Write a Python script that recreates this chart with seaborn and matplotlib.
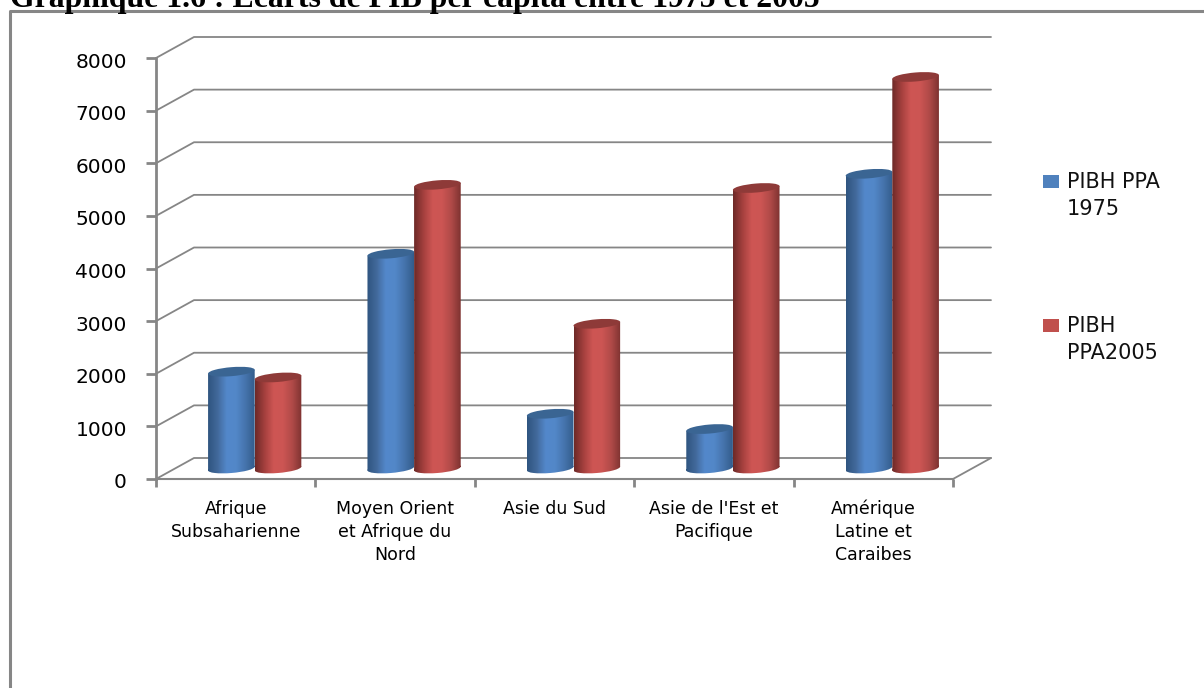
import numpy as np
import pandas as pd
import seaborn as sns
import matplotlib.pyplot as plt
from matplotlib.colors import LinearSegmentedColormap
from matplotlib.lines import Line2D
from matplotlib.patches import PathPatch, Rectangle
from matplotlib.path import Path
from matplotlib.transforms import Affine2D, ScaledTranslation

# Données
regions = ['Afrique\nSubsaharienne', 'Moyen Orient\net Afrique du\nNord', 'Asie du Sud',
           "Asie de l'Est et\nPacifique", 'Amérique\nLatine et\nCaraibes']
pibh_1975 = [1840, 4080, 1040, 750, 5600]
pibh_2005 = [1730, 5390, 2750, 5330, 7440]
noms = ['PIBH PPA\n1975', 'PIBH\nPPA2005']
y_ticks = [0, 1000, 2000, 3000, 4000, 5000, 6000, 7000, 8000]
titre = 'Graphique 1.6 : Ecarts de PIB per capita entre 1975 et 2005'

couleurs = ['#4F81BD', '#C0504D']
degrades = [['#2F5580', '#42699B', '#5388CB', '#5287C8', '#4674AD', '#335D8C'],
            ['#6E2A28', '#A5403E', '#CE5654', '#CC5553', '#B04A48', '#7F3331']]
dessus = ['#3A6593', '#8E3A38']
gris = '#868686'

W, H = 1204, 688
L, R, T, B = 156, 953, 58, 479
fig = plt.figure(figsize=(W / 100, H / 100), dpi=100)
sns.set_style('white')
plt.rcParams['font.family'] = ['DejaVu Sans']
plt.rcParams['text.color'] = 'black'


def boite(x0, y0, x1, y1):
    # pixels de l'image vers coordonnées de la figure
    return [x0 / W, 1 - y1 / H, (x1 - x0) / W, (y1 - y0) / H]


# Cadre du graphique et titre
fig.add_artist(Line2D([1, 9.5 / W, 9.5 / W], [1 - 11 / H, 1 - 11 / H, 0], color=gris, lw=2.2))
fig.text(10 / W, 1 - 6.5 / H, titre, family='Liberation Serif', weight='bold', fontsize=22.9, va='baseline', color='black')

# Axes de la face avant
ax = fig.add_axes(boite(L, T, R, B))
ax.set_xlim(-0.5, 4.5)
ax.set_ylim(0, 8000)
ax.patch.set_visible(False)
prof_x = 38 / (R - L) * 5
prof_y = 21 / (B - T) * 8000
for v in y_ticks:
    ax.plot([-0.5, -0.5 + prof_x, 4.5 + prof_x], [v, v + prof_y, v + prof_y], color=gris, lw=1.3, clip_on=False, zorder=1)
ax.plot([4.5, 4.5 + prof_x], [0, prof_y], color=gris, lw=1.3, clip_on=False, zorder=1)

ax.set_yticks(y_ticks)
ax.set_xticks(np.arange(-0.5, 5))
ax.set_xticklabels([])
ax.set_xticks(range(5), regions, minor=True)
ax.tick_params(axis='y', length=7, width=2, color=gris, labelsize=14.5, labelcolor='black', pad=14, left=True)
ax.tick_params(axis='x', which='major', length=6, width=2, color=gris, bottom=True)
ax.tick_params(axis='x', which='minor', length=0, labelsize=12.5, labelcolor='black', pad=15)
for t in ax.get_xticklabels(minor=True):
    t.set_linespacing(1.35)
for t in ax.get_yticklabels():
    t.set_transform(t.get_transform() + ScaledTranslation(0, -2 / 100, fig.dpi_scale_trans))
for s in ['top', 'right']:
    ax.spines[s].set_visible(False)
ax.spines['left'].set_color(gris)
ax.spines['left'].set_linewidth(2)
ax.spines['bottom'].set_color(gris)
ax.spines['bottom'].set_linewidth(1.5)

# Axes des barres, décalés au milieu de la profondeur
bars = fig.add_axes(boite(L + 19, T - 10.5, R + 19, B - 10.5))
df = pd.DataFrame({'region': regions * 2,
                   'serie': [noms[0]] * 5 + [noms[1]] * 5,
                   'valeur': pibh_1975 + pibh_2005})
sns.barplot(data=df, x='region', y='valeur', hue='serie', palette=couleurs, width=0.585, gap=0,
            legend=False, ax=bars)
bars.set_xlim(-0.5, 4.5)
bars.set_ylim(0, 8000)
bars.axis('off')

# Cylindres: dégradé découpé sur la barre + ellipses inclinées bas et haut
haut_ell = 9 / (B - T) * 8000
pente = 0.08 * (8000 / (B - T)) * ((R - L) / 5)
n = len(regions)
for i, p in enumerate(bars.patches[:2 * n]):
    s = i // n
    x, w, h = p.get_x(), p.get_width(), p.get_height()
    cx = x + w / 2
    d = pente * w / 2
    cmap = LinearSegmentedColormap.from_list('c', degrades[s])
    corps = Path([(x, -d), (x + w, d), (x + w, h + d), (x, h - d), (x, -d)], closed=True)
    ell = Affine2D.from_values(w / 2, pente * w / 2, 0, haut_ell / 2, cx, 0)
    bas = Path.unit_circle().transformed(ell)
    forme = Path.make_compound_path(corps, bas)
    im = bars.imshow(np.linspace(0, 1, 64)[None, :], cmap=cmap, aspect='auto',
                     extent=[x, x + w, -haut_ell - d, h + d], zorder=3 + s)
    im.set_clip_path(forme, transform=bars.transData)
    im.set_clip_box(fig.bbox)
    haut = Path.unit_circle().transformed(Affine2D.from_values(w / 2, pente * w / 2, 0, haut_ell / 2, cx, h))
    bars.add_patch(PathPatch(haut, facecolor=dessus[s], lw=0, zorder=3.5 + s, clip_on=False))
    p.set_visible(False)
bars.set_xlim(-0.5, 4.5)
bars.set_ylim(0, 8000)

# Légende
for y, c, nom in zip([175, 319], couleurs, noms):
    fig.add_artist(Rectangle((1043 / W, 1 - (y + 13) / H), 16 / W, 13 / H, color=c, lw=0))
    fig.text(1067 / W, 1 - (y - 3) / H, nom, fontsize=15, va='top', linespacing=1.45, color='#111111')

plt.savefig('out.png', dpi=100)
